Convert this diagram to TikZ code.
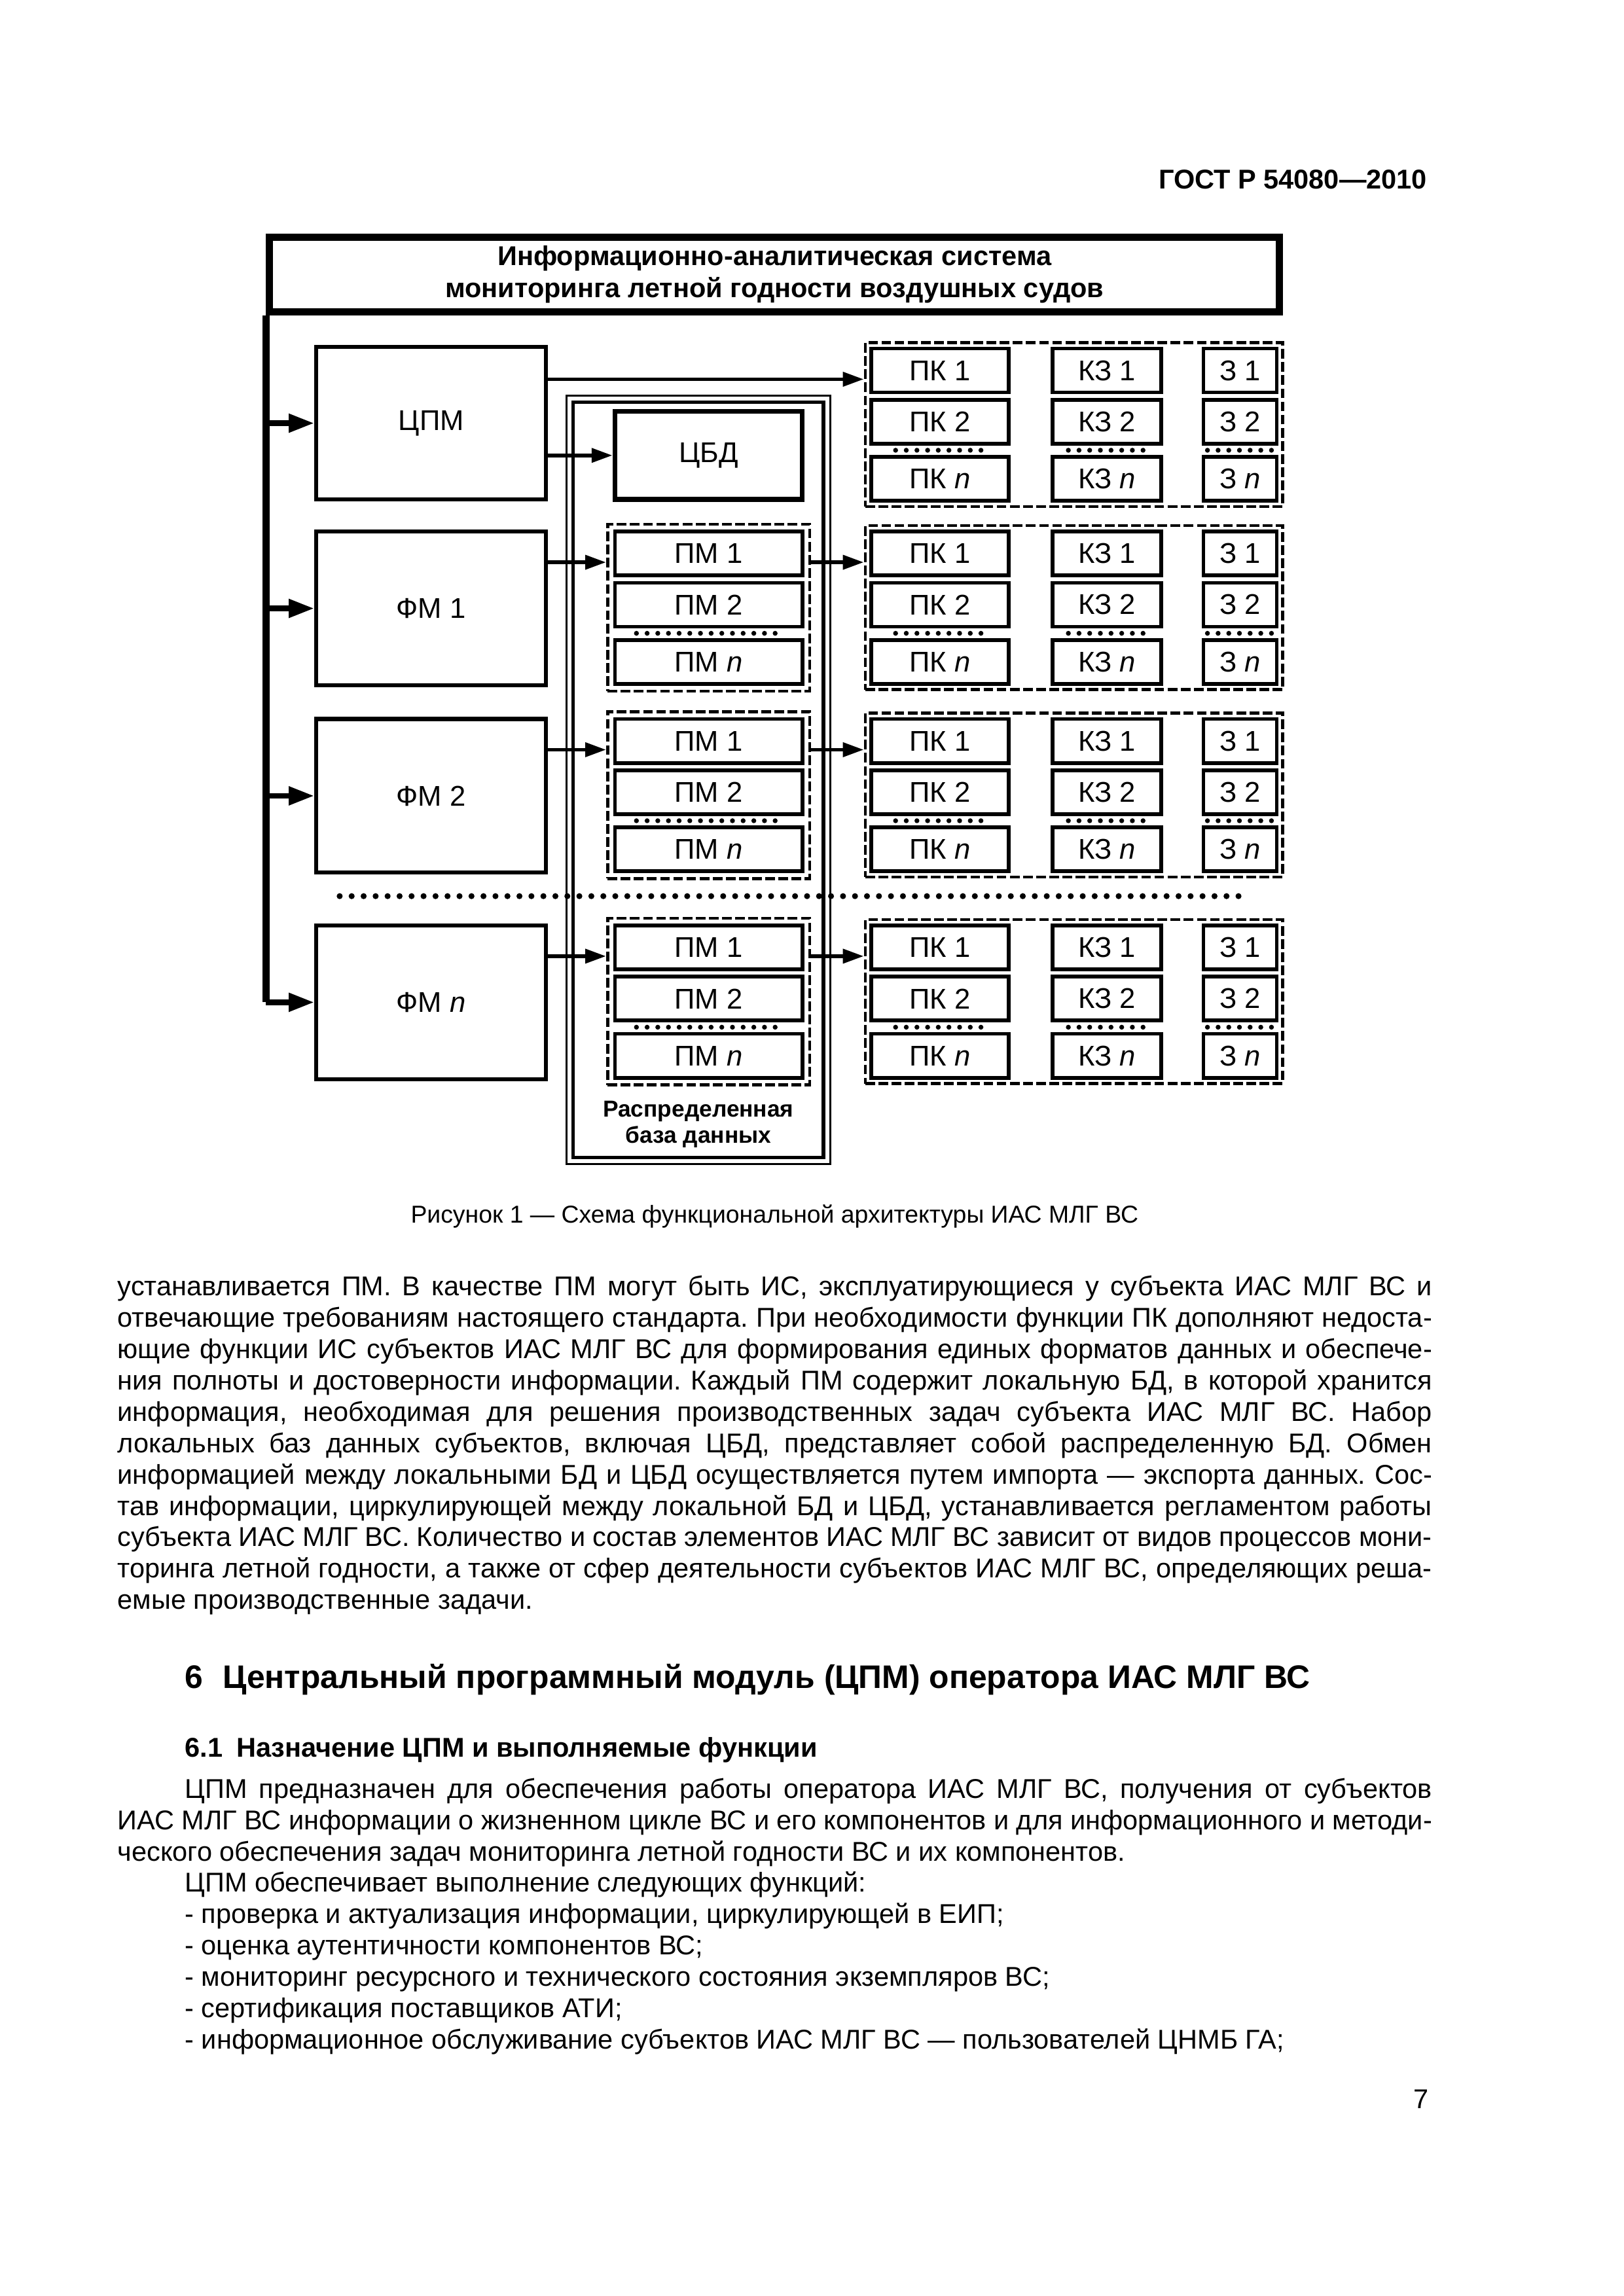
\documentclass[tikz,border=0pt]{standalone}
\usepackage{fontspec}
\setmainfont{Liberation Sans}
\usetikzlibrary{arrows.meta,positioning,calc}
\newlength\upx
\setlength\upx{0.18936mm}
\newcommand\bodyfont{\fontsize{10}{11.53}\selectfont\frenchspacing\spaceskip=.278em plus .3em minus .12em\relax\hyphenpenalty=10000\relax}
\tikzset{
  >=Triangle,
  blk/.style={draw,line width=1.5pt,inner sep=0pt,font=\fontsize{10.5}{12}\selectfont},
  cell/.style={blk,line width=1.4pt,minimum height=30*\upx},
  fmbox/.style={blk,minimum width=157*\upx,minimum height=105*\upx},
  pkbox/.style={cell,minimum width=94*\upx},
  kzbox/.style={cell,minimum width=74*\upx},
  zbox/.style={cell,minimum width=50*\upx},
  pmbox/.style={cell,minimum width=128*\upx},
  grp/.style={draw,line width=1.1pt,dash pattern=on 1.25mm off .45mm,inner sep=0pt},
  frame/.style={draw,line width=2.6pt,inner sep=0pt,align=center,font=\bfseries\fontsize{10}{11.8}\selectfont},
  bus/.style={line width=2.6pt},
  busarr/.style={-{Triangle[length=3.3mm,width=2.3mm]},line width=2pt},
  arr/.style={-{Triangle[length=2.7mm,width=1.8mm]},line width=1.4pt},
  dotrow/.style={line width=1.8pt,line cap=round,dash pattern=on 0pt off 1.38mm},
  bigdots/.style={line width=2.2pt,line cap=round,dash pattern=on 0pt off 1.55mm},
  txt/.style={anchor=base west,inner sep=0pt,text width=170mm,align=justify,font=\bodyfont}
}

\begin{document}
\begin{tikzpicture}[x=0.18936mm,y=-0.18941mm]
\fill[white] (0,0) rectangle (1109,1568);
\useasboundingbox (0,0) rectangle (1109,1568);

% page header
\node[anchor=base east,inner sep=0pt,font=\bfseries] (hdr) at (975,129) {ГОСТ Р 54080—2010};

% system frame and the modules
\node[frame,minimum width=690*\upx,minimum height=51*\upx] (ias) at (529,187.5) {Информационно-аналитическая система\\мониторинга летной годности воздушных судов};
\node[blk,minimum width=157*\upx,minimum height=104*\upx] (cpm) at (294.5,289) {ЦПМ};

% distributed data base
\node[draw,line width=.8pt,inner sep=0pt,minimum width=180*\upx,minimum height=525*\upx] (rbd) at (477,532.5) {};
\node[draw,line width=1.3pt,inner sep=0pt,minimum width=171*\upx,minimum height=516*\upx] (rbdin) at (477,532.5) {};
\node[align=center,font=\bfseries\fontsize{8.5}{9.7}\selectfont] (rbdlab) at (477,768) {Распределенная\\база данных};
\node[blk,line width=1.8pt,minimum width=128*\upx,minimum height=60*\upx] (cbd) at (484,311) {ЦБД};

% groups of ПК / КЗ / З
\foreach \g/\t in {0/238,1/363,2/491,3/632}{
  \foreach \r/\dy/\lab in {1/0/1,2/35/2,3/74/{\textit{n}}}{
    \node[pkbox] (pk\g\r) at (642,\t+\dy+15) {ПК \lab};
    \node[kzbox] (kz\g\r) at (756,\t+\dy+15) {КЗ \lab};
    \node[zbox] (z\g\r) at (847,\t+\dy+15) {З \lab};
  }
  \node[grp,minimum width=285*\upx,minimum height=112*\upx] (pkg\g) at (733.5,\t+52) {};
  \draw[dotrow] ($(pk\g2.south west)!.5!(pk\g3.north west)+(18,0)$) -- ($(pk\g2.south east)!.5!(pk\g3.north east)+(-18,0)$);
  \draw[dotrow] ($(kz\g2.south west)!.5!(kz\g3.north west)+(12,0)$) -- ($(kz\g2.south east)!.5!(kz\g3.north east)+(-11,0)$);
  \draw[dotrow] ($(z\g2.south west)!.5!(z\g3.north west)+(4,0)$) -- ($(z\g2.south east)!.5!(z\g3.north east)+(-3,0)$);
  \coordinate (ay\g) at (0,\t+21);
}

% functional modules and their ПМ
\foreach \g/\t/\lab in {1/363/1,2/491/2,3/632/{\textit{n}}}{
  \node[fmbox] (fm\g) at (294.5,\t+52.5) {ФМ \lab};
  \foreach \r/\dy/\plab in {1/0/1,2/35/2,3/74/{\textit{n}}}{
    \node[pmbox] (pm\g\r) at (484,\t+\dy+15) {ПМ \plab};
  }
  \node[grp,minimum width=138*\upx,minimum height=114*\upx] (pmg\g) at (484,\t+52) {};
  \draw[dotrow] ($(pm\g2.south west)!.5!(pm\g3.north west)+(16,0)$) -- ($(pm\g2.south east)!.5!(pm\g3.north east)+(-16,0)$);
  \draw[arr] (fm\g.east |- ay\g) -- (pmg\g.west |- ay\g);
  \draw[arr] (pmg\g.east |- ay\g) -- (pkg\g.west |- ay\g);
}

\draw[bigdots] (232,612) -- (852,612);

% bus
\draw[bus] (ias.south west) -- (ias.south west |- fm3.west);
\foreach \n in {cpm,fm1,fm2,fm3}
  \draw[busarr] (ias.south west |- \n.west) -- (\n.west);
\draw[arr] (cpm.east |- ay0) -- (pkg0.west |- ay0);
\draw[arr] (cpm.east |- cbd.west) -- (cbd.west);

% caption and text
\node[anchor=base,inner sep=0pt,font=\fontsize{9}{11}\selectfont] (cap) at (529,835) {Рисунок 1 — Схема функциональной архитектуры ИАС МЛГ ВС};

\node[txt] (p1) at (80,885) {устанавливается ПМ. В качестве ПМ могут быть ИС, эксплуатирующиеся у субъекта ИАС МЛГ ВС и\linebreak
отвечающие требованиям настоящего стандарта. При необходимости функции ПК дополняют недоста-\linebreak
ющие функции ИС субъектов ИАС МЛГ ВС для формирования единых форматов данных и обеспече-\linebreak
ния полноты и достоверности информации. Каждый ПМ содержит локальную БД, в которой хранится\linebreak
информация, необходимая для решения производственных задач субъекта ИАС МЛГ ВС. Набор\linebreak
локальных баз данных субъектов, включая ЦБД, представляет собой распределенную БД. Обмен\linebreak
информацией между локальными БД и ЦБД осуществляется путем импорта — экспорта данных. Сос-\linebreak
тав информации, циркулирующей между локальной БД и ЦБД, устанавливается регламентом работы\linebreak
субъекта ИАС МЛГ ВС. Количество и состав элементов ИАС МЛГ ВС зависит от видов процессов мони-\linebreak
торинга летной годности, а также от сфер деятельности субъектов ИАС МЛГ ВС, определяющих реша-\linebreak
емые производственные задачи.};

\node[anchor=base west,inner sep=0pt,font=\bfseries\fontsize{12}{14}\selectfont] (h6) at (126,1153) {6\hspace{.6em}Центральный программный модуль (ЦПМ) оператора ИАС МЛГ ВС};
\node[anchor=base west,inner sep=0pt,font=\bfseries] (h61) at (126,1200) {6.1\hspace{.5em}Назначение ЦПМ и выполняемые функции};

\node[txt] (p2) at (80,1228) {\setlength{\parindent}{8.7mm}\hspace*{\parindent}ЦПМ предназначен для обеспечения работы оператора ИАС МЛГ ВС, получения от субъектов\linebreak
ИАС МЛГ ВС информации о жизненном цикле ВС и его компонентов и для информационного и методи-\linebreak
ческого обеспечения задач мониторинга летной годности ВС и их компонентов.\par
ЦПМ обеспечивает выполнение следующих функций:\par
- проверка и актуализация информации, циркулирующей в ЕИП;\par
- оценка аутентичности компонентов ВС;\par
- мониторинг ресурсного и технического состояния экземпляров ВС;\par
- сертификация поставщиков АТИ;\par
- информационное обслуживание субъектов ИАС МЛГ ВС — пользователей ЦНМБ ГА;};

\node[anchor=base east,inner sep=0pt] (pg) at (976,1440) {7};
\end{tikzpicture}
\end{document}
